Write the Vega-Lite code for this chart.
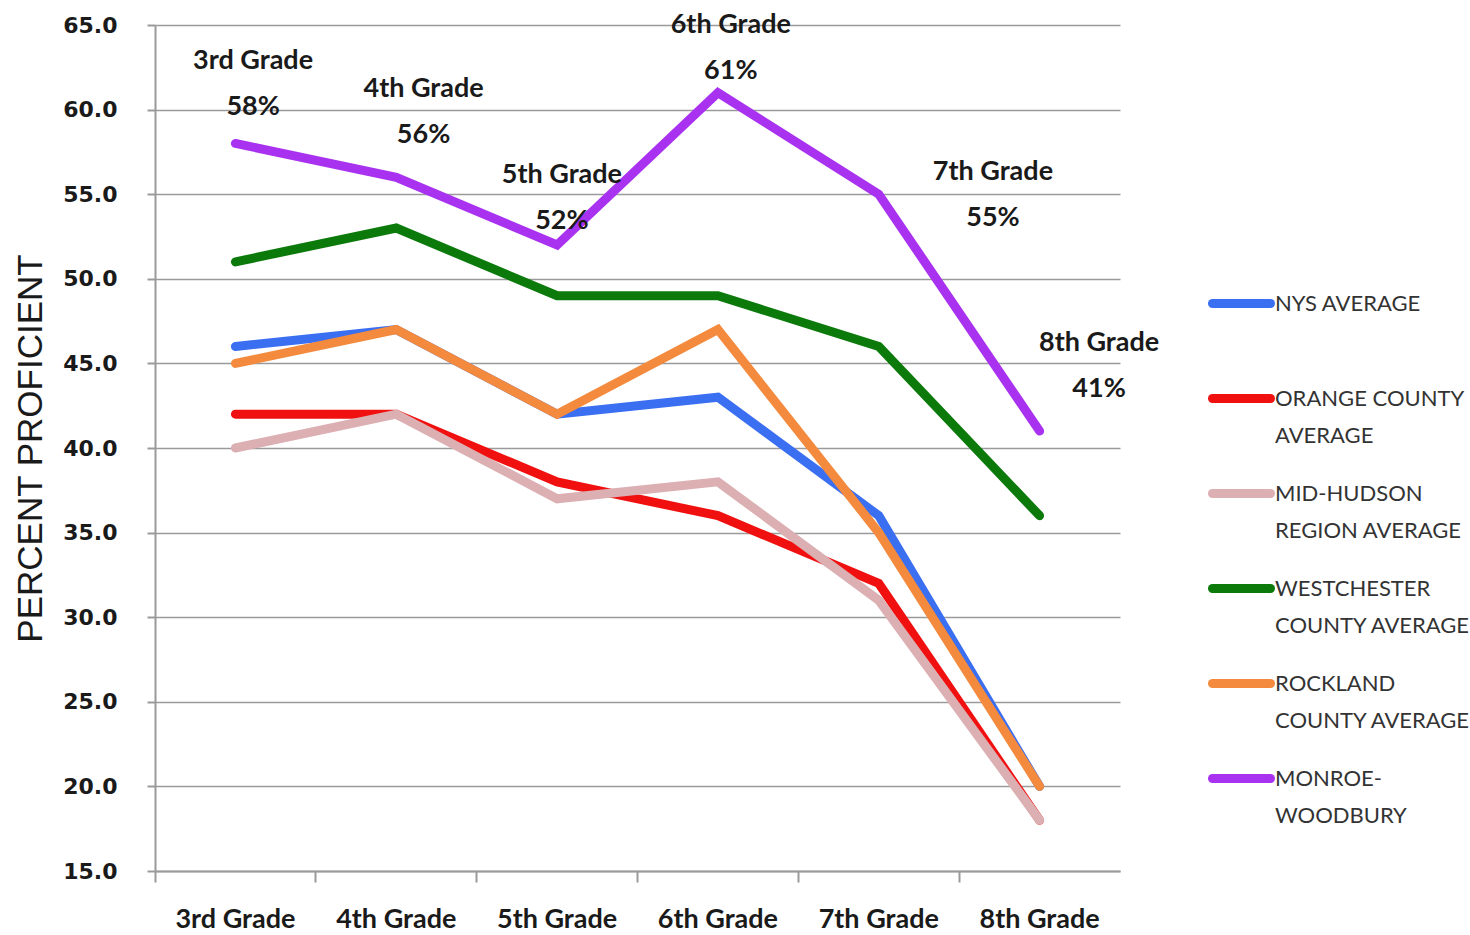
{
  "$schema": "https://vega.github.io/schema/vega-lite/v6.json",
  "width": 965,
  "height": 846,
  "autosize": {"type": "none"},
  "padding": {"left": 155, "top": 25, "right": 350, "bottom": 64},
  "background": "#ffffff",
  "view": {"stroke": null},
  "datasets": {
    "scores": [
      {"grade": "3rd Grade", "series": "NYS AVERAGE", "value": 46},
      {"grade": "4th Grade", "series": "NYS AVERAGE", "value": 47},
      {"grade": "5th Grade", "series": "NYS AVERAGE", "value": 42},
      {"grade": "6th Grade", "series": "NYS AVERAGE", "value": 43},
      {"grade": "7th Grade", "series": "NYS AVERAGE", "value": 36},
      {"grade": "8th Grade", "series": "NYS AVERAGE", "value": 20},
      {"grade": "3rd Grade", "series": "ORANGE COUNTY AVERAGE", "value": 42},
      {"grade": "4th Grade", "series": "ORANGE COUNTY AVERAGE", "value": 42},
      {"grade": "5th Grade", "series": "ORANGE COUNTY AVERAGE", "value": 38},
      {"grade": "6th Grade", "series": "ORANGE COUNTY AVERAGE", "value": 36},
      {"grade": "7th Grade", "series": "ORANGE COUNTY AVERAGE", "value": 32},
      {"grade": "8th Grade", "series": "ORANGE COUNTY AVERAGE", "value": 18},
      {"grade": "3rd Grade", "series": "MID-HUDSON REGION AVERAGE", "value": 40},
      {"grade": "4th Grade", "series": "MID-HUDSON REGION AVERAGE", "value": 42},
      {"grade": "5th Grade", "series": "MID-HUDSON REGION AVERAGE", "value": 37},
      {"grade": "6th Grade", "series": "MID-HUDSON REGION AVERAGE", "value": 38},
      {"grade": "7th Grade", "series": "MID-HUDSON REGION AVERAGE", "value": 31},
      {"grade": "8th Grade", "series": "MID-HUDSON REGION AVERAGE", "value": 18},
      {"grade": "3rd Grade", "series": "WESTCHESTER COUNTY AVERAGE", "value": 51},
      {"grade": "4th Grade", "series": "WESTCHESTER COUNTY AVERAGE", "value": 53},
      {"grade": "5th Grade", "series": "WESTCHESTER COUNTY AVERAGE", "value": 49},
      {"grade": "6th Grade", "series": "WESTCHESTER COUNTY AVERAGE", "value": 49},
      {"grade": "7th Grade", "series": "WESTCHESTER COUNTY AVERAGE", "value": 46},
      {"grade": "8th Grade", "series": "WESTCHESTER COUNTY AVERAGE", "value": 36},
      {"grade": "3rd Grade", "series": "ROCKLAND COUNTY AVERAGE", "value": 45},
      {"grade": "4th Grade", "series": "ROCKLAND COUNTY AVERAGE", "value": 47},
      {"grade": "5th Grade", "series": "ROCKLAND COUNTY AVERAGE", "value": 42},
      {"grade": "6th Grade", "series": "ROCKLAND COUNTY AVERAGE", "value": 47},
      {"grade": "7th Grade", "series": "ROCKLAND COUNTY AVERAGE", "value": 35},
      {"grade": "8th Grade", "series": "ROCKLAND COUNTY AVERAGE", "value": 20},
      {"grade": "3rd Grade", "series": "MONROE-WOODBURY", "value": 58},
      {"grade": "4th Grade", "series": "MONROE-WOODBURY", "value": 56},
      {"grade": "5th Grade", "series": "MONROE-WOODBURY", "value": 52},
      {"grade": "6th Grade", "series": "MONROE-WOODBURY", "value": 61},
      {"grade": "7th Grade", "series": "MONROE-WOODBURY", "value": 55},
      {"grade": "8th Grade", "series": "MONROE-WOODBURY", "value": 41}
    ],
    "labels": [
      {"label": "3rd Grade\n58%", "labelX": 1.11, "labelY": 62.87},
      {"label": "4th Grade\n56%", "labelX": 2.17, "labelY": 61.22},
      {"label": "5th Grade\n52%", "labelX": 3.03, "labelY": 56.13},
      {"label": "6th Grade\n61%", "labelX": 4.08, "labelY": 65.0},
      {"label": "7th Grade\n55%", "labelX": 5.71, "labelY": 56.31},
      {"label": "8th Grade\n41%", "labelX": 6.37, "labelY": 46.21}
    ]
  },
  "layer": [
    {
      "data": {"name": "scores"},
      "mark": {"type": "line", "strokeWidth": 9, "strokeCap": "round", "strokeJoin": "miter"},
      "encoding": {
        "x": {
          "field": "grade", "type": "nominal", "bandPosition": 0.5,
          "scale": {"type": "band", "paddingInner": 0, "paddingOuter": 0,
                    "domain": ["3rd Grade", "4th Grade", "5th Grade", "6th Grade", "7th Grade", "8th Grade"]},
          "axis": {
            "title": null, "labelAngle": 0, "bandPosition": 0, "grid": false,
            "domainColor": "#9a9a9a", "domainWidth": 2, "tickColor": "#9a9a9a", "tickWidth": 2, "tickSize": 11,
            "labelFont": "Lato", "labelFontWeight": "bold", "labelFontSize": 27, "labelColor": "#1a1a1a",
            "labelPadding": 24, "labelAlign": "center", "labelBaseline": "top"
          }
        },
        "y": {
          "field": "value", "type": "quantitative",
          "scale": {"domain": [15, 65], "nice": false, "zero": false},
          "axis": {
            "title": "PERCENT PROFICIENT", "values": [15, 20, 25, 30, 35, 40, 45, 50, 55, 60, 65], "format": ".1f",
            "grid": true, "gridColor": "#9a9a9a", "gridWidth": 1.5,
            "domainColor": "#9a9a9a", "domainWidth": 2, "tickColor": "#9a9a9a", "tickWidth": 2, "tickSize": 8,
            "labelFont": "DejaVu Sans", "labelFontWeight": "bold", "labelFontSize": 22, "labelColor": "#1a1a1a",
            "labelPadding": 30,
            "titleFont": "Liberation Sans", "titleFontWeight": "normal", "titleFontSize": 35, "titleColor": "#1a1a1a",
            "titlePadding": 14
          }
        },
        "color": {
          "field": "series", "type": "nominal",
          "scale": {
            "domain": ["NYS AVERAGE", "ORANGE COUNTY AVERAGE", "MID-HUDSON REGION AVERAGE", "WESTCHESTER COUNTY AVERAGE", "ROCKLAND COUNTY AVERAGE", "MONROE-WOODBURY"],
            "range": ["#3b6ff2", "#f01010", "#dcafb2", "#0b7a0b", "#f48a3d", "#a932f0"]
          },
          "legend": {
            "title": null, "orient": "none", "legendX": 1053, "legendY": 245,
            "symbolType": "stroke", "symbolSize": 3364, "symbolStrokeWidth": 9,
            "gridAlign": "all", "rowPadding": 13,
            "labelFont": "Lato", "labelFontSize": 22, "labelColor": "#333333", "labelOffset": 0, "labelLimit": 300,
            "labelBaseline": "middle",
            "labelExpr": "datum.label == 'ORANGE COUNTY AVERAGE' ? ['ORANGE COUNTY', 'AVERAGE'] : datum.label == 'MID-HUDSON REGION AVERAGE' ? ['MID-HUDSON', 'REGION AVERAGE'] : datum.label == 'WESTCHESTER COUNTY AVERAGE' ? ['WESTCHESTER', 'COUNTY AVERAGE'] : datum.label == 'ROCKLAND COUNTY AVERAGE' ? ['ROCKLAND', 'COUNTY AVERAGE'] : datum.label == 'MONROE-WOODBURY' ? ['MONROE-', 'WOODBURY'] : [datum.label, '']",
            "encode": {
              "labels": {"update": {"lineHeight": {"value": 37}}},
              "symbols": {"update": {"strokeCap": {"value": "round"}, "strokeWidth": {"value": 9}}}
            }
          }
        }
      }
    },
    {
      "data": {"name": "labels"},
      "mark": {"type": "text", "font": "Lato", "fontWeight": "bold", "fontSize": 27, "color": "#1a1a1a",
               "lineBreak": "\n", "lineHeight": 46, "baseline": "middle", "align": "center"},
      "encoding": {
        "x": {"field": "labelX", "type": "quantitative", "scale": {"domain": [0.5, 6.5], "nice": false, "zero": false}, "axis": null},
        "y": {"field": "labelY", "type": "quantitative", "axis": {"title": "PERCENT PROFICIENT"}},
        "text": {"field": "label"}
      }
    }
  ],
  "resolve": {"scale": {"x": "independent"}}
}
